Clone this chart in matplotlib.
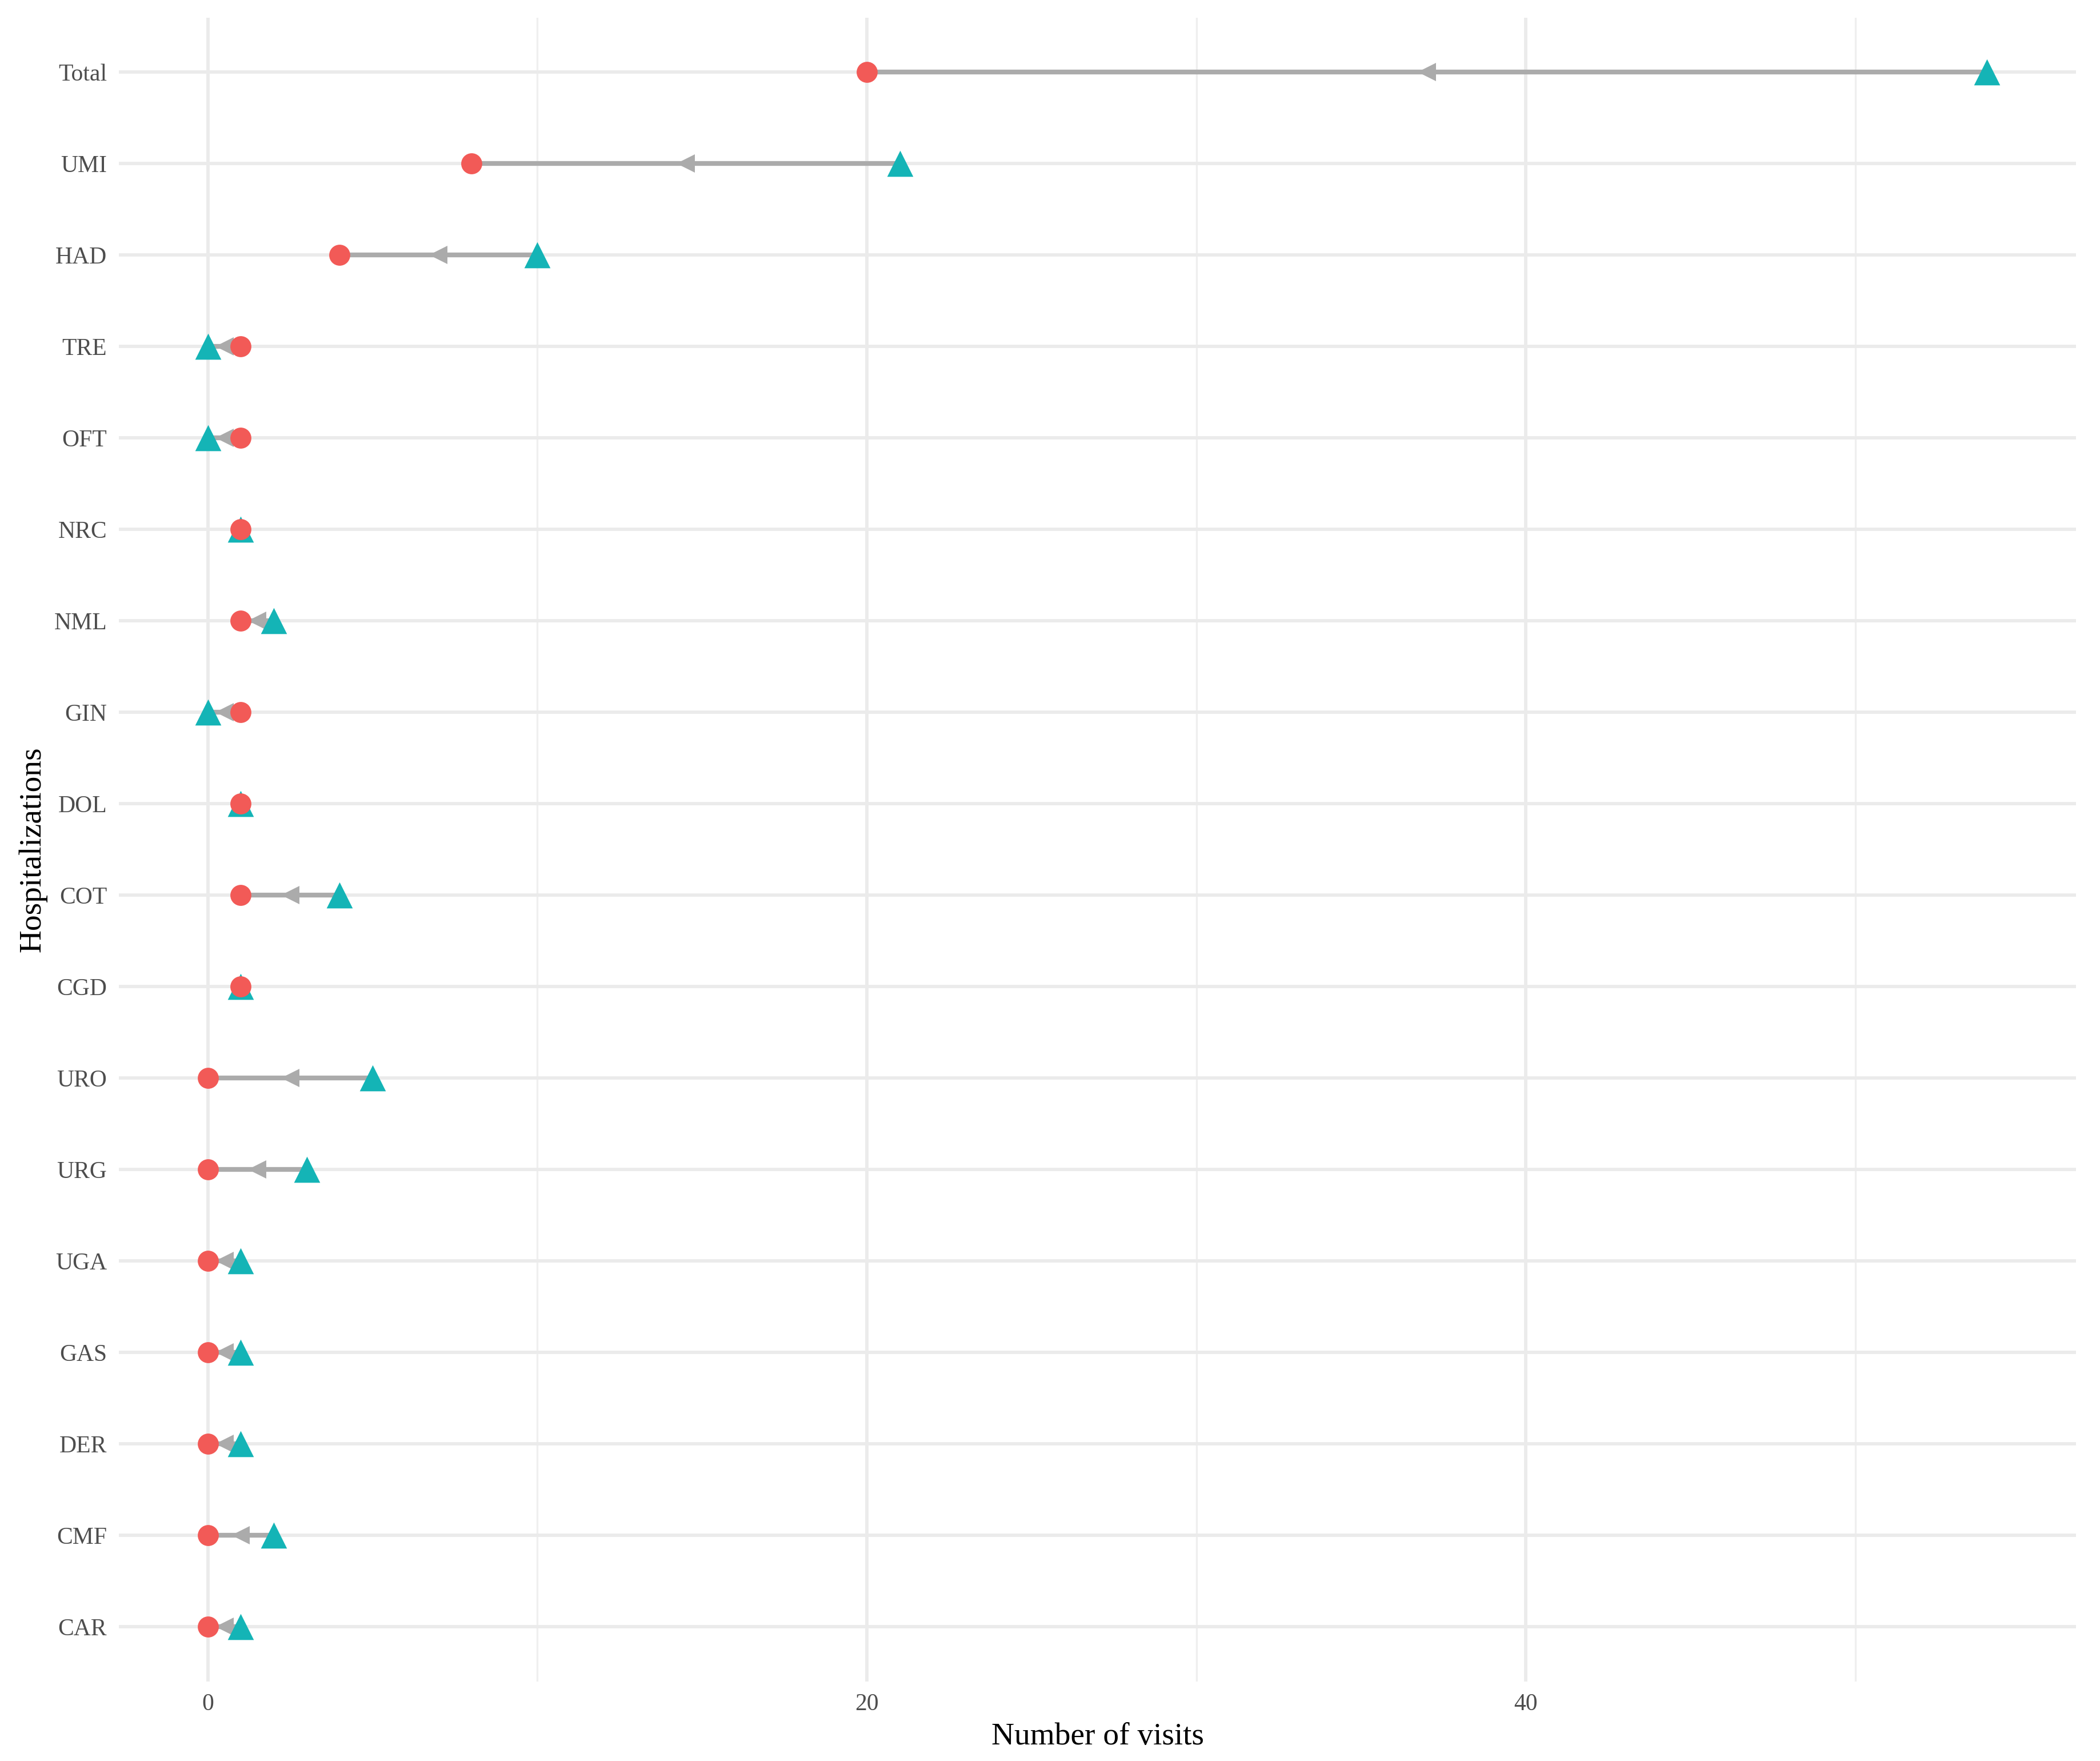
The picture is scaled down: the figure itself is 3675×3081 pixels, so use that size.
import matplotlib
matplotlib.use("Agg")
import matplotlib.pyplot as plt
import numpy as np

categories = ["Total", "UMI", "HAD", "TRE", "OFT", "NRC", "NML", "GIN", "DOL",
              "COT", "CGD", "URO", "URG", "UGA", "GAS", "DER", "CMF", "CAR"]
after_visits = [20, 8, 4, 1, 1, 1, 1, 1, 1, 1, 1, 0, 0, 0, 0, 0, 0, 0]      # red circles
before_visits = [54, 21, 10, 0, 0, 1, 2, 0, 1, 4, 1, 5, 3, 1, 1, 1, 2, 1]   # teal triangles
x_major = [0, 20, 40]
x_minor = [10, 30, 50]

plt.rcParams['font.family'] = ['Liberation Serif', 'DejaVu Serif']

fig = plt.figure(figsize=(12.25, 10.27), dpi=300)
ax = fig.add_axes([0.0566, 0.0451, 0.932, 0.945])

n = len(categories)
ypos = np.arange(n)[::-1]
a = np.array(after_visits, dtype=float)
b = np.array(before_visits, dtype=float)

# grid
for xm in x_major:
    ax.axvline(xm, color="#EBEBEB", lw=1.4, zorder=0)
for xm in x_minor:
    ax.axvline(xm, color="#EFEFEF", lw=0.8, zorder=0)
for y in ypos:
    ax.axhline(y, color="#EBEBEB", lw=1.4, zorder=0)

grey = "#ABABAB"
for yi, ai, bi in zip(ypos, a, b):
    ax.plot([ai, bi], [yi, yi], color=grey, lw=2.0, solid_capstyle="butt", zorder=2)
    if ai != bi:
        ax.plot([(ai + bi) / 2], [yi], marker="<", color=grey, markersize=7.5,
                markeredgewidth=0, zorder=3)

ax.scatter(b, ypos, marker="^", s=120, color="#14B4B6", linewidths=0, zorder=4)
ax.scatter(a, ypos, marker="o", s=78, color="#F25A57", linewidths=0, zorder=5)

ax.set_xlim(-2.7, 56.7)
ax.set_ylim(-0.6, n - 1 + 0.6)
ax.set_xticks(x_major)
ax.set_xticklabels([str(v) for v in x_major])
ax.set_yticks(ypos)
ax.set_yticklabels(categories)
ax.tick_params(axis="both", length=0, labelsize=10, labelcolor="#4D4D4D", pad=5)
for s in ax.spines.values():
    s.set_visible(False)

ax.set_xlabel("Number of visits", fontsize=13.3, color="black", labelpad=3)
ax.set_ylabel("Hospitalizations", fontsize=13.3, color="black", labelpad=3)

fig.savefig("out.png", dpi=300, facecolor="white")
